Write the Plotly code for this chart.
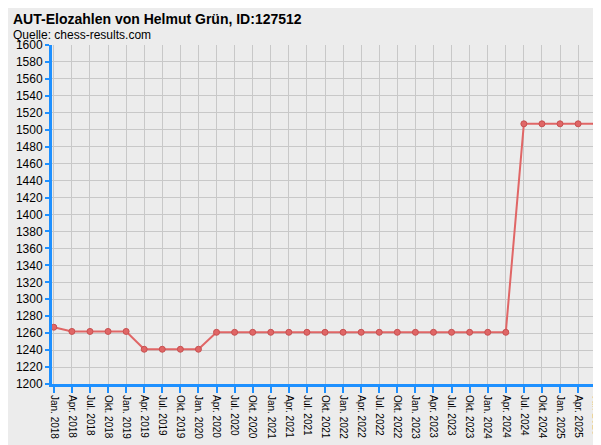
import plotly.graph_objects as go

dates = []
for y in range(2018, 2026):
    for m in ["Jan.", "Apr.", "Jul.", "Okt."]:
        dates.append(f"{m} {y}")
dates = dates[:31]
elo = [1267, 1262, 1262, 1262, 1262, 1241, 1241, 1241, 1241,
       1261, 1261, 1261, 1261, 1261, 1261, 1261, 1261, 1261, 1261,
       1261, 1261, 1261, 1261, 1261, 1261, 1261, 1507, 1507, 1507, 1507, 1507]
yticks = list(range(1200, 1601, 20))

fig = go.Figure(go.Scatter(
    x=list(range(len(dates))), y=elo, mode="lines+markers",
    line=dict(color="#e06666", width=2),
    marker=dict(color="#e06666", size=6, line=dict(color="#c85050", width=1)),
))
fig.update_layout(
    width=601, height=445, margin=dict(l=44, r=11, t=37, b=69),
    paper_bgcolor="#ececec", plot_bgcolor="#ececec", showlegend=False,
    font=dict(family="Liberation Sans", size=11, color="black"),
    annotations=[
        dict(text="<b>AUT-Elozahlen von Helmut Grün, ID:127512</b>", x=0, y=1.0, xref="paper", yref="paper",
             xshift=-41, yshift=26, xanchor="left", yanchor="middle", showarrow=False, font=dict(size=14)),
        dict(text="Quelle: chess-results.com", x=0, y=1.0, xref="paper", yref="paper",
             xshift=-41, yshift=10, xanchor="left", yanchor="middle", showarrow=False, font=dict(size=12)),
    ],
)
fig.update_xaxes(
    tickvals=list(range(len(dates))), ticktext=dates, tickangle=90, range=[-0.1, 30.1],
    showgrid=True, gridcolor="#c8c8c8", zeroline=False, automargin=False,
    showline=True, linecolor="#1e90ff", linewidth=3, ticks="outside", tickcolor="#1e90ff",
    ticklen=6, tickwidth=2, tickfont=dict(size=10),
)
fig.update_yaxes(
    tickvals=yticks, range=[1200, 1600], showgrid=True, gridcolor="#c8c8c8", zeroline=False,
    automargin=False,
    showline=True, linecolor="#1e90ff", linewidth=3, ticks="outside", tickcolor="#1e90ff",
    ticklen=4, tickwidth=2, tickfont=dict(size=12),
)
fig.write_html("out.html")
